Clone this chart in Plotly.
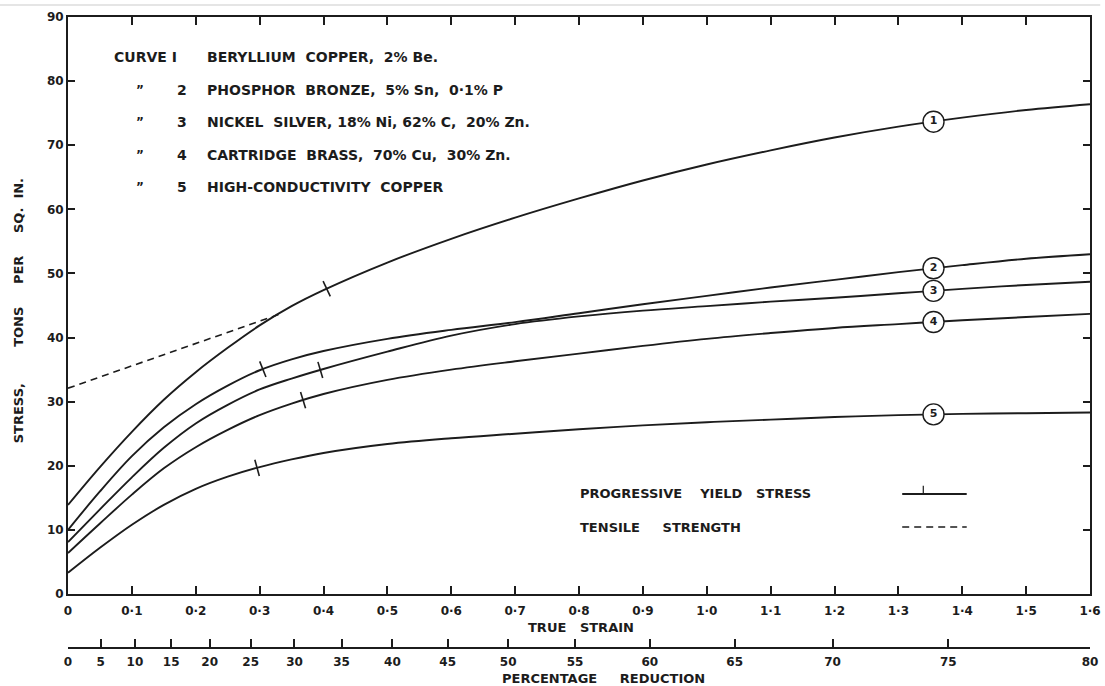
import numpy as np
import plotly.graph_objects as go

# ---- data -------------------------------------------------------------
strain = [0, 0.05, 0.1, 0.15, 0.2, 0.25, 0.3, 0.35, 0.4, 0.5, 0.6, 0.7,
          0.8, 0.9, 1.0, 1.1, 1.2, 1.3, 1.4, 1.5, 1.6]

stress_1 = [13.9, 19.8, 25.3, 30.3, 34.6, 38.4, 41.9, 44.9, 47.4, 51.7, 55.4,
            58.7, 61.7, 64.5, 67.0, 69.2, 71.2, 72.9, 74.3, 75.5, 76.4]
stress_2 = [10.0, 16.0, 21.5, 26.0, 29.6, 32.5, 34.9, 36.6, 37.9, 39.8, 41.2,
            42.4, 43.8, 45.2, 46.5, 47.8, 49.0, 50.2, 51.3, 52.3, 53.0]
stress_3 = [8.1, 13.2, 18.2, 22.8, 26.6, 29.5, 31.9, 33.6, 35.1, 37.8, 40.3,
            42.1, 43.3, 44.2, 44.9, 45.6, 46.2, 46.9, 47.6, 48.2, 48.7]
stress_4 = [6.4, 11.0, 15.5, 19.6, 22.9, 25.6, 27.9, 29.7, 31.2, 33.4, 35.0,
            36.3, 37.5, 38.7, 39.8, 40.7, 41.5, 42.1, 42.7, 43.2, 43.7]
stress_5 = [3.3, 7.2, 10.8, 13.9, 16.4, 18.3, 19.8, 21.0, 22.0, 23.4, 24.3,
            25.0, 25.7, 26.3, 26.8, 27.2, 27.6, 27.9, 28.1, 28.2, 28.3]

tensile_strain = [0, 0.1, 0.2, 0.3, 0.33]
tensile_stress = [32.1, 35.6, 39.1, 42.5, 43.6]

# strain at which each curve carries its yield mark, and where its number sits
yield_strain = [0.405, 0.305, 0.395, 0.368, 0.296]
label_strain = 1.355
curve_numbers = ["1", "2", "3", "4", "5"]

materials = [
    "BERYLLIUM\u00a0\u00a0COPPER,\u00a0\u00a02%\u00a0Be.",
    "PHOSPHOR\u00a0\u00a0BRONZE,\u00a0\u00a05%\u00a0Sn,\u00a0\u00a00·1%\u00a0P",
    "NICKEL\u00a0\u00a0SILVER,\u00a018%\u00a0Ni,\u00a062%\u00a0C,\u00a0\u00a020%\u00a0Zn.",
    "CARTRIDGE\u00a0\u00a0BRASS,\u00a0\u00a070%\u00a0Cu,\u00a0\u00a030%\u00a0Zn.",
    "HIGH-CONDUCTIVITY\u00a0\u00a0COPPER",
]

strain_ticks = [round(0.1 * i, 1) for i in range(17)]
strain_tick_text = ["0"] + [f"{v:.1f}".replace(".", "·") for v in strain_ticks[1:]]
reduction_ticks = list(range(0, 85, 5))

curves = [stress_1, stress_2, stress_3, stress_4, stress_5]

# ---- figure -----------------------------------------------------------
INK = "#1c1c1c"
FONT = "DejaVu Sans"
W, H = 1105, 686
ML, MR, MT, MB = 68, 15, 17, 38
PLOT_BOTTOM = 594
paper_h = H - MT - MB
y_dom0 = (H - MB - PLOT_BOTTOM) / paper_h
px_per_x = (W - ML - MR) / 1.6
px_per_y = (PLOT_BOTTOM - MT) / 90

fig = go.Figure()

# tensile strength (dashed)
fig.add_trace(go.Scatter(
    x=tensile_strain, y=tensile_stress, mode="lines",
    line=dict(color=INK, width=1.6, dash="7px,5px"),
    hoverinfo="skip", showlegend=False))

for i, s in enumerate(curves):
    fig.add_trace(go.Scatter(
        x=strain, y=s, mode="lines",
        line=dict(color=INK, width=1.9, shape="spline", smoothing=1.0),
        hoverinfo="skip", showlegend=False))

    # short stroke across the curve at the yield point
    xm = yield_strain[i]
    ym = float(np.interp(xm, strain, s))
    slope = float(np.interp(xm, strain, np.gradient(s, strain)))
    ang = -np.degrees(np.arctan(slope * px_per_y / px_per_x))
    fig.add_trace(go.Scatter(
        x=[xm], y=[ym], mode="markers",
        marker=dict(symbol="line-ns", size=12, angle=ang,
                    line=dict(color=INK, width=1.6)),
        hoverinfo="skip", showlegend=False))

    # circled curve number
    yl = float(np.interp(label_strain, strain, s))
    fig.add_trace(go.Scatter(
        x=[label_strain], y=[yl], mode="markers+text",
        marker=dict(symbol="circle", size=21, color="white",
                    line=dict(color=INK, width=1.4)),
        text=[curve_numbers[i]], textposition="middle center",
        textfont=dict(family=FONT, size=11, color=INK, weight="bold"),
        hoverinfo="skip", showlegend=False))

# carrier trace for the percentage-reduction scale
fig.add_trace(go.Scatter(x=[0], y=[0], xaxis="x2", mode="markers",
                         marker=dict(opacity=0), hoverinfo="skip",
                         showlegend=False))

tickfont = dict(family=FONT, size=12, color=INK, weight="bold")

fig.update_layout(
    width=W, height=H, autosize=False,
    margin=dict(l=ML, r=MR, t=MT, b=MB, pad=0),
    paper_bgcolor="white", plot_bgcolor="white",
    font=dict(family=FONT, color=INK),
    xaxis=dict(
        range=[0, 1.6], tickmode="array", tickvals=strain_ticks,
        ticktext=strain_tick_text, ticks="inside", ticklen=8, tickwidth=1.5,
        tickcolor=INK, showline=True, linecolor=INK, linewidth=1.8,
        mirror="ticks", showgrid=False, zeroline=False, tickfont=tickfont,
        ticklabelstandoff=5, automargin=False, anchor="y"),
    xaxis2=dict(
        overlaying="x", anchor="free", position=0, side="bottom",
        range=[0, -np.log(0.2)], tickmode="array",
        tickvals=[-np.log(1 - p / 100) for p in reduction_ticks],
        ticktext=[str(p) for p in reduction_ticks],
        ticks="inside", ticklen=8, tickwidth=1.5, tickcolor=INK,
        showline=True, linecolor=INK, linewidth=1.8, showgrid=False,
        zeroline=False, tickfont=tickfont, ticklabelstandoff=3,
        automargin=False),
    yaxis=dict(
        domain=[y_dom0, 1], range=[0, 90], tickmode="array",
        tickvals=list(range(0, 100, 10)), ticks="inside", ticklen=7,
        tickwidth=1.5, tickcolor=INK, showline=True, linecolor=INK,
        linewidth=1.8, mirror="ticks", showgrid=False, zeroline=False,
        tickfont=tickfont, automargin=False),
)

ann = []
def txt(x, y, s, size=14, xanchor="left", xref="x", yref="y", angle=0):
    ann.append(dict(x=x, y=y, xref=xref, yref=yref, text=s, showarrow=False,
                    xanchor=xanchor, yanchor="middle", textangle=angle,
                    font=dict(family=FONT, size=size, color=INK, weight="bold")))

# key to the curves
key_rows = [83.8, 78.6, 73.6, 68.5, 63.5]
txt(0.069, key_rows[0], "CURVE\u00a0I", 14)
for i, yk in enumerate(key_rows):
    if i > 0:
        txt(0.113, yk, "\u201d", 12, xanchor="center")
        txt(0.178, yk, curve_numbers[i], 14, xanchor="center")
    txt(0.2145, yk, materials[i], 14)

# line-style key
txt(0.798, 15.6, "PROGRESSIVE\u00a0\u00a0\u00a0\u00a0YIELD\u00a0\u00a0\u00a0STRESS", 13)
txt(0.798, 10.45, "TENSILE\u00a0\u00a0\u00a0\u00a0\u00a0STRENGTH", 13)

# axis titles
txt(0.803, (H - MB - 627) / paper_h, "TRUE\u00a0\u00a0\u00a0STRAIN", 13,
    xanchor="center", yref="paper")
txt(0.8376, (H - MB - 678) / paper_h,
    "PERCENTAGE\u00a0\u00a0\u00a0\u00a0\u00a0REDUCTION", 13,
    xanchor="center", yref="paper")
txt(-50 / (W - ML - MR), 44.1,
    "STRESS,\u00a0\u00a0\u00a0\u00a0\u00a0\u00a0\u00a0\u00a0TONS\u00a0\u00a0\u00a0\u00a0\u00a0PER"
    "\u00a0\u00a0\u00a0\u00a0\u00a0SQ.\u00a0\u00a0IN.", 13,
    xanchor="center", xref="paper", angle=-90)

fig.update_layout(annotations=ann)

shapes = [
    # solid sample with its yield stroke
    dict(type="line", xref="x", yref="y", x0=1.306, x1=1.407, y0=15.6, y1=15.6,
         line=dict(color=INK, width=2)),
    dict(type="line", xref="x", yref="y", x0=1.339, x1=1.339, y0=15.6, y1=16.9,
         line=dict(color=INK, width=1.2)),
    # dashed sample
    dict(type="line", xref="x", yref="y", x0=1.306, x1=1.407, y0=10.45, y1=10.45,
         line=dict(color=INK, width=1.4, dash="7px,5px")),
    # faint rule along the top edge of the sheet
    dict(type="line", xref="paper", yref="paper", x0=-ML / (W - ML - MR), x1=1.01,
         y0=(H - MB - 5) / paper_h, y1=(H - MB - 5) / paper_h,
         line=dict(color="#dcdcdc", width=1.5)),
]
fig.update_layout(shapes=shapes)

fig.write_html("out.html")
